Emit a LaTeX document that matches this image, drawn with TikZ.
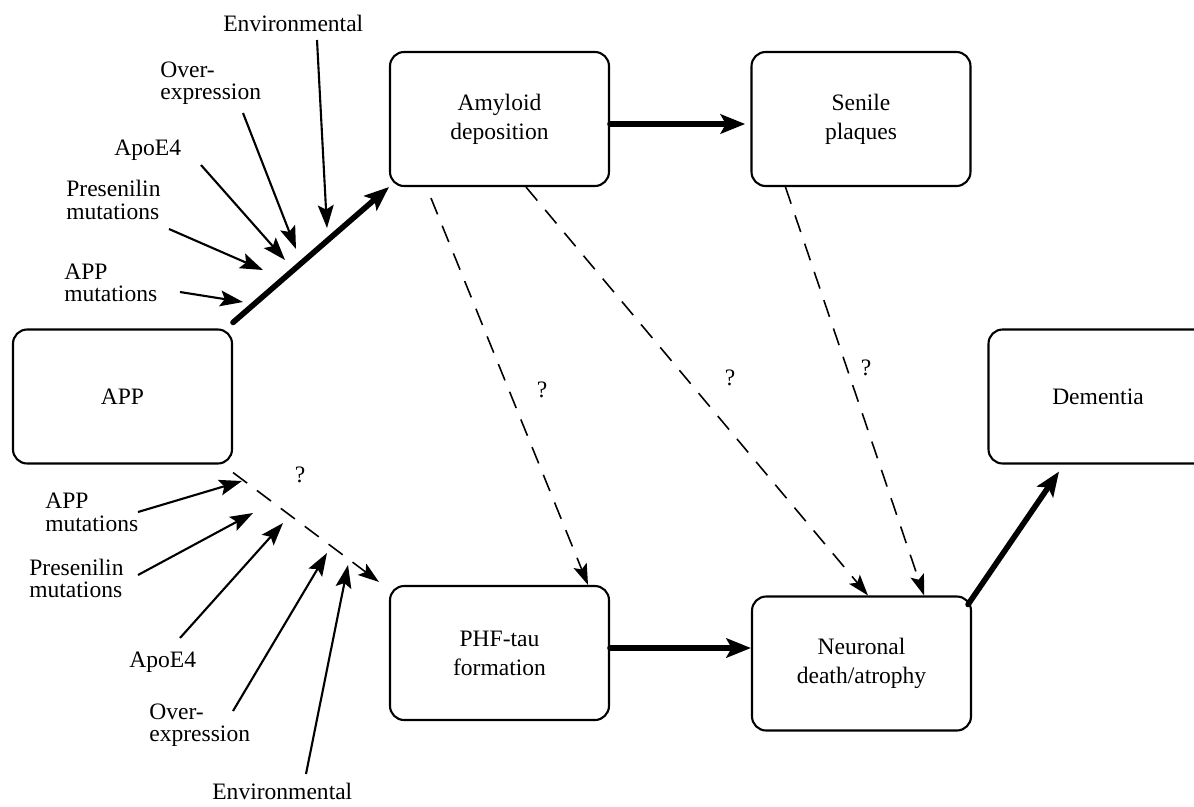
\documentclass[tikz,border=0pt]{standalone}
\usepackage{fontspec}
\setmainfont{Liberation Serif}
\usetikzlibrary{arrows.meta, calc}
\tikzset{
  stagebox/.style = {draw, rounded corners=8pt, line width=1.2pt,
                     minimum width=4.38cm, minimum height=2.68cm, align=center,
                     font=\fontsize{13.4}{16.4}\selectfont},
  factlab/.style  = {anchor=west, align=left, inner sep=0pt,
                     font=\fontsize{13.4}{12.8}\selectfont},
  qlab/.style     = {inner sep=0pt, font=\fontsize{13.4}{13.4}\selectfont},
  thickarr/.style = {-{Stealth[length=14pt, width=11pt, inset=3pt]},
                     line width=3.2pt, line cap=round},
  factarr/.style  = {-{Stealth[length=13pt, width=9pt, inset=2.5pt]}, line width=1.2pt},
  unkarr/.style   = {-{Stealth[length=12pt, width=8pt, inset=2.5pt]}, line width=0.9pt,
                     dash pattern=on 10pt off 7pt},
}

\begin{document}
\begin{tikzpicture}[x=0.02cm, y=-0.02cm]
  \useasboundingbox (0,0) rectangle (1194,806);
  \clip (0,0) rectangle (1194,806);
  % stages
  \node[stagebox] (app) at (122.5,396.5) {APP};
  \node[stagebox] (amy) at (499.5,119)   {Amyloid\\deposition};
  \node[stagebox] (sen) at (861,119)     {Senile\\plaques};
  \node[stagebox] (dem) at (1098,396.5)  {Dementia};
  \node[stagebox] (phf) at (499.5,653)   {PHF-tau\\formation};
  \node[stagebox] (neu) at (861.5,663.5) {Neuronal\\death/atrophy};
  % main pathway
  \draw[thickarr] ([yshift=0.12cm]app.north east) -- (amy.south west);
  \draw[thickarr, shorten >=3pt] ([yshift=-0.1cm]amy.east) -- ([yshift=-0.1cm]sen.west);
  \draw[thickarr] ([yshift=0.1cm]phf.east) -- ([yshift=0.1cm]phf.east -| neu.west);
  \draw[thickarr] ([xshift=-0.08cm, yshift=-0.18cm]neu.north east)
    -- ([xshift=-0.78cm, yshift=-0.14cm]dem.south);
  % uncertain links
  \draw[unkarr] ([yshift=-0.16cm]app.south east) -- ([xshift=-0.2cm, yshift=0.06cm]phf.north west);
  \draw[unkarr] ([xshift=0.84cm, yshift=-0.22cm]amy.south west) -- ([xshift=-0.44cm]phf.north east);
  \draw[unkarr] ([xshift=0.53cm]amy.south) -- ([xshift=0.13cm]neu.north);
  \draw[unkarr] ([xshift=0.7cm]sen.south west) -- ([xshift=-0.96cm]neu.north east);
  \node[qlab] (q1) at (300,475) {?};
  \node[qlab] (q2) at (542,390) {?};
  \node[qlab] (q3) at (730,378) {?};
  \node[qlab] (q4) at (866,368) {?};
  % factors acting on amyloid deposition
  \node[factlab] (envT)  at (223,23)  {Environmental};
  \node[factlab] (ovrT)  at (160,83)  {Over-\\expression};
  \node[factlab] (apoT)  at (114,150) {ApoE4};
  \node[factlab] (psnT)  at (66,200)  {Presenilin\\mutations};
  \node[factlab] (appmT) at (64,283)  {APP\\mutations};
  \coordinate (envTs)  at (317,40);  \coordinate (envTe)  at (327,228);
  \coordinate (ovrTs)  at (243,113); \coordinate (ovrTe)  at (296,249);
  \coordinate (apoTs)  at (201,165); \coordinate (apoTe)  at (285,260);
  \coordinate (psnTs)  at (169,229); \coordinate (psnTe)  at (263,270);
  \coordinate (appmTs) at (180,292); \coordinate (appmTe) at (243,302);
  % factors acting on tau formation
  \node[factlab] (appmB) at (45,512.5)  {APP\\mutations};
  \node[factlab] (psnB)  at (29,578.5)  {Presenilin\\mutations};
  \node[factlab] (apoB)  at (129,662)   {ApoE4};
  \node[factlab] (ovrB)  at (149,725)   {Over-\\expression};
  \node[factlab] (envB)  at (212,791)   {Environmental};
  \coordinate (appmBs) at (138,512); \coordinate (appmBe) at (242,481);
  \coordinate (psnBs)  at (138,575); \coordinate (psnBe)  at (253,513);
  \coordinate (apoBs)  at (180,638); \coordinate (apoBe)  at (283,523);
  \coordinate (ovrBs)  at (233,711); \coordinate (ovrBe)  at (327,553);
  \coordinate (envBs)  at (306,774); \coordinate (envBe)  at (348,565);
  \foreach \f in {envT, ovrT, apoT, psnT, appmT, appmB, psnB, apoB, ovrB, envB}
    \draw[factarr] (\f s) -- (\f e);
\end{tikzpicture}
\end{document}
